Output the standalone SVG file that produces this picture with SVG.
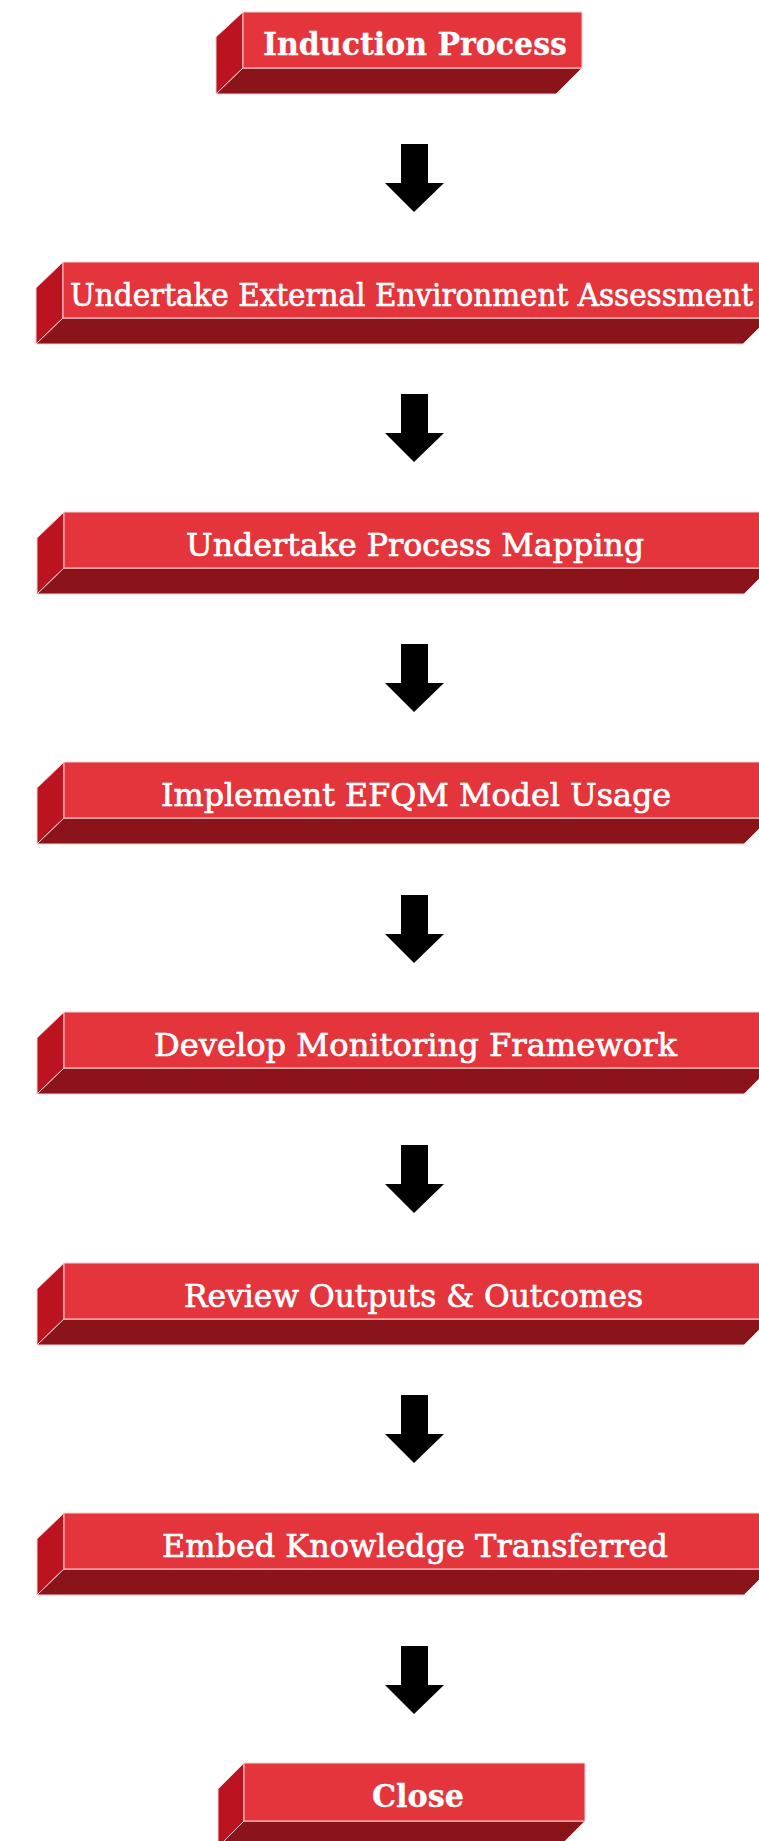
<svg xmlns="http://www.w3.org/2000/svg" width="759" height="1841" viewBox="0 0 759 1841">
<style>
.front{fill:#E4343C;stroke:#F6D0D2;stroke-width:1}
.side{fill:#BB1420;stroke:#F6D0D2;stroke-width:1}
.bottom{fill:#8A141A;stroke:#F6D0D2;stroke-width:1}
.t{fill:#FFFFFF;font-family:"DejaVu Serif","Liberation Serif",serif;font-size:31px;stroke:#FFFFFF;stroke-width:0.7}
.b{font-weight:bold;stroke-width:0.3}
.arrow{fill:#000000}
</style>
<rect width="759" height="1841" fill="#FFFFFF"/>
<g id="n1">
<polygon class="side" points="216,37 243,12 243,68 216,94"/>
<polygon class="bottom" points="243,68 582,68 556,94 216,94"/>
<rect class="front" x="243" y="12" width="339" height="56"/>
<text class="t b" x="263" y="55" textLength="304" lengthAdjust="spacingAndGlyphs">Induction Process</text>
</g>
<g id="n2">
<polygon class="side" points="36,288 63,262 63,318 36,344"/>
<polygon class="bottom" points="63,318 769,318 743,344 36,344"/>
<rect class="front" x="63" y="262" width="706" height="56"/>
<text class="t" x="70" y="306" textLength="683" lengthAdjust="spacingAndGlyphs">Undertake External Environment Assessment</text>
</g>
<g id="n3">
<polygon class="side" points="37,538 64,512 64,568 37,594"/>
<polygon class="bottom" points="64,568 770,568 744,594 37,594"/>
<rect class="front" x="64" y="512" width="706" height="56"/>
<text class="t" x="186" y="556" textLength="458" lengthAdjust="spacingAndGlyphs">Undertake Process Mapping</text>
</g>
<g id="n4">
<polygon class="side" points="37,788 64,762 64,818 37,844"/>
<polygon class="bottom" points="64,818 770,818 744,844 37,844"/>
<rect class="front" x="64" y="762" width="706" height="56"/>
<text class="t" x="161" y="806" textLength="510" lengthAdjust="spacingAndGlyphs">Implement EFQM Model Usage</text>
</g>
<g id="n5">
<polygon class="side" points="37,1038 64,1012 64,1068 37,1094"/>
<polygon class="bottom" points="64,1068 770,1068 744,1094 37,1094"/>
<rect class="front" x="64" y="1012" width="706" height="56"/>
<text class="t" x="154" y="1056" textLength="523" lengthAdjust="spacingAndGlyphs">Develop Monitoring Framework</text>
</g>
<g id="n6">
<polygon class="side" points="37,1289 64,1263 64,1319 37,1345"/>
<polygon class="bottom" points="64,1319 770,1319 744,1345 37,1345"/>
<rect class="front" x="64" y="1263" width="706" height="56"/>
<text class="t" x="184" y="1307" textLength="459" lengthAdjust="spacingAndGlyphs">Review Outputs &amp; Outcomes</text>
</g>
<g id="n7">
<polygon class="side" points="37,1539 64,1513 64,1569 37,1595"/>
<polygon class="bottom" points="64,1569 770,1569 744,1595 37,1595"/>
<rect class="front" x="64" y="1513" width="706" height="56"/>
<text class="t" x="162" y="1557" textLength="506" lengthAdjust="spacingAndGlyphs">Embed Knowledge Transferred</text>
</g>
<g id="n8">
<polygon class="side" points="218,1789 244,1763 244,1821 218,1847"/>
<polygon class="bottom" points="244,1821 585,1821 559,1847 218,1847"/>
<rect class="front" x="244" y="1763" width="341" height="58"/>
<text class="t b" x="372" y="1807" textLength="92" lengthAdjust="spacingAndGlyphs">Close</text>
</g>
<g id="connectors">
<polygon class="arrow" points="401,144 428,144 428,183 444,183 414,212 385,183 401,183"/>
<polygon class="arrow" points="401,394 428,394 428,433 444,433 414,462 385,433 401,433"/>
<polygon class="arrow" points="401,644 428,644 428,683 444,683 414,712 385,683 401,683"/>
<polygon class="arrow" points="401,895 428,895 428,934 444,934 414,963 385,934 401,934"/>
<polygon class="arrow" points="401,1145 428,1145 428,1184 444,1184 414,1213 385,1184 401,1184"/>
<polygon class="arrow" points="401,1395 428,1395 428,1434 444,1434 414,1463 385,1434 401,1434"/>
<polygon class="arrow" points="401,1646 428,1646 428,1685 444,1685 414,1714 385,1685 401,1685"/>
</g>
</svg>
